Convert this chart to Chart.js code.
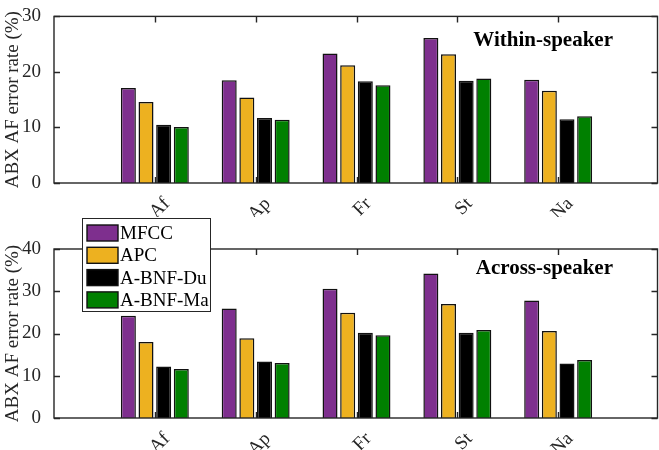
<!DOCTYPE html>
<html>
  <head>
    <title>ABX AF error rate</title>
    <script src="https://cdn.jsdelivr.net/npm/chart.js@4.4.1/dist/chart.umd.min.js"></script>
    <style>
      body { margin: 0; background: #fff; }
      #wrap { position: relative; width: 659px; height: 450px; }
      .panel { position: absolute; left: 0; width: 659px; }
    </style>
  </head>
  <body>
    <div id="wrap">
      <div class="panel" style="top:0;height:217px"><canvas id="within"></canvas></div>
      <div class="panel" style="top:217px;height:233px"><canvas id="across"></canvas></div>
    </div>
    <script>
      // empty slots at both ends so the groups sit at 1..5 of a 0..6 axis
      const categories = ["", "Af", "Ap", "Fr", "St", "Na", ""];
      const seriesNames = ["MFCC", "APC", "A-BNF-Du", "A-BNF-Ma"];
      const seriesColors = ["#7E2F8E", "#EDB120", "#000000", "#008000"];

      const withinMFCC = [null, 17.1, 18.5, 23.3, 26.1, 18.6, null];
      const withinAPC = [null, 14.6, 15.4, 21.2, 23.2, 16.6, null];
      const withinDu = [null, 10.5, 11.7, 18.3, 18.4, 11.5, null];
      const withinMa = [null, 10.1, 11.4, 17.6, 18.8, 12.0, null];

      const acrossMFCC = [null, 24.2, 25.9, 30.6, 34.2, 27.8, null];
      const acrossAPC = [null, 18.0, 18.9, 24.9, 27.0, 20.6, null];
      const acrossDu = [null, 12.2, 13.4, 20.2, 20.2, 12.9, null];
      const acrossMa = [null, 11.6, 13.0, 19.6, 20.8, 13.7, null];

      const axisColor = "#262626";
      const serif = "'Liberation Serif', 'Times New Roman', serif";

      // MATLAB style box with inward ticks, plus the panel label
      const boxPlugin = {
        id: "box",
        afterDatasetsDraw(chart, args, opts) {
          const { ctx, chartArea: a } = chart;
          const xs = chart.scales.x, ys = chart.scales.y;
          const right = Math.min(a.right, chart.width - 1.5);
          ctx.save();
          ctx.strokeStyle = axisColor;
          ctx.lineWidth = 1.4;
          ctx.beginPath();
          ys.ticks.forEach((t) => {
            const y = Math.round(ys.getPixelForValue(t.value)) + 0.5;
            ctx.moveTo(a.left, y); ctx.lineTo(a.left + 6, y);
            ctx.moveTo(right, y); ctx.lineTo(right - 6, y);
          });
          for (let i = 1; i < categories.length - 1; i++) {
            const x = Math.round(xs.getPixelForTick(i)) + 0.5;
            ctx.moveTo(x, a.bottom); ctx.lineTo(x, a.bottom - 6);
            ctx.moveTo(x, a.top); ctx.lineTo(x, a.top + 6);
          }
          ctx.stroke();
          ctx.strokeRect(a.left, a.top, right - a.left, a.bottom - a.top);
          ctx.fillStyle = "#000";
          ctx.font = "bold 21px " + serif;
          ctx.textAlign = "right";
          ctx.textBaseline = "middle";
          ctx.fillText(opts.label, a.right - 46, a.top + opts.labelDy);
          ctx.restore();
        },
      };

      // legend box that overlaps the top of the lower panel
      const legendPlugin = {
        id: "boxLegend",
        afterDraw(chart, args, opts) {
          if (!opts.show) return;
          const { ctx } = chart;
          const x0 = 82, y0 = 1, w = 128, h = 93;
          ctx.save();
          ctx.fillStyle = "#fff";
          ctx.fillRect(x0, y0, w, h);
          ctx.strokeStyle = axisColor;
          ctx.lineWidth = 1;
          ctx.strokeRect(x0 + 0.5, y0 + 0.5, w, h);
          ctx.font = "19px " + serif;
          ctx.textBaseline = "middle";
          chart.data.datasets.forEach((ds, i) => {
            const cy = y0 + 15 + i * 22.3;
            ctx.fillStyle = ds.backgroundColor;
            ctx.fillRect(x0 + 5, cy - 8, 31, 16);
            ctx.strokeStyle = "#111";
            ctx.lineWidth = 1.4;
            ctx.strokeRect(x0 + 5, cy - 8, 31, 16);
            ctx.fillStyle = "#000";
            ctx.fillText(ds.label, x0 + 38, cy + 1);
          });
          ctx.restore();
        },
      };

      function makeDatasets(values) {
        return values.map((v, i) => ({
          label: seriesNames[i],
          data: v,
          backgroundColor: seriesColors[i],
          borderColor: "#111",
          borderWidth: 1.5,
          categoryPercentage: 0.7,
          barPercentage: 0.85,
        }));
      }

      function makeChart(id, values, yMax, padTop, xHeight, label, labelDy, showLegend) {
        return new Chart(document.getElementById(id), {
          type: "bar",
          data: { labels: categories, datasets: makeDatasets(values) },
          plugins: [boxPlugin, legendPlugin],
          options: {
            responsive: true,
            maintainAspectRatio: false,
            animation: false,
            layout: { padding: { top: padTop, right: 0, left: 0, bottom: 0 } },
            plugins: {
              legend: { display: false },
              tooltip: { enabled: false },
              box: { label: label, labelDy: labelDy },
              boxLegend: { show: showLegend },
            },
            scales: {
              x: {
                offset: false,
                grid: { display: false },
                border: { display: false },
                afterFit: (s) => {
                  s.height = xHeight;
                  s.paddingLeft = 0;
                  s.paddingRight = 0;
                },
                ticks: {
                  autoSkip: false,
                  minRotation: 45,
                  maxRotation: 45,
                  padding: 2,
                  labelOffset: 12,
                  color: axisColor,
                  font: { family: serif, size: 19 },
                },
              },
              y: {
                min: 0,
                max: yMax,
                grid: { display: false },
                border: { display: false },
                afterFit: (s) => { s.width = 54; },
                ticks: {
                  stepSize: 10,
                  padding: 5,
                  color: axisColor,
                  font: { family: serif, size: 19 },
                },
                title: {
                  display: true,
                  text: "ABX AF error rate (%)",
                  color: axisColor,
                  padding: { top: 2, bottom: 0 },
                  font: { family: serif, size: 19 },
                },
              },
            },
          },
        });
      }

      makeChart("within", [withinMFCC, withinAPC, withinDu, withinMa], 30, 15, 34, "Within-speaker", 24, false);
      makeChart("across", [acrossMFCC, acrossAPC, acrossDu, acrossMa], 40, 32, 32, "Across-speaker", 20, true);
    </script>
  </body>
</html>
